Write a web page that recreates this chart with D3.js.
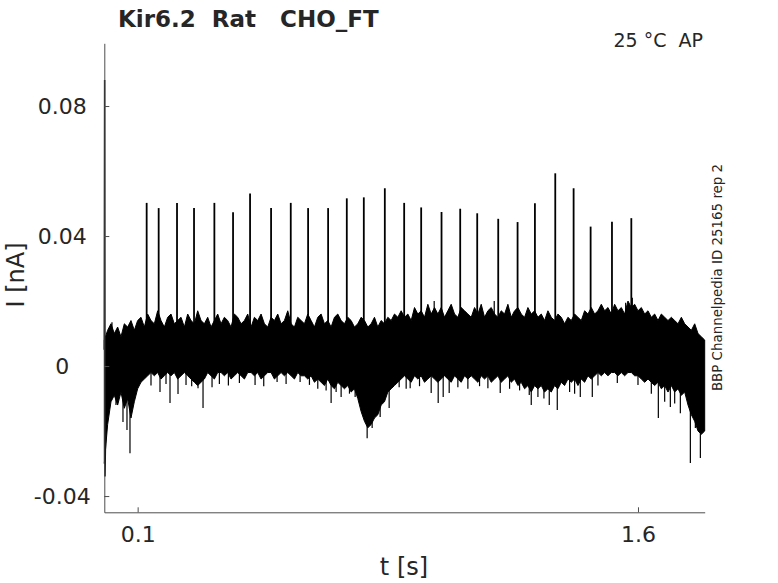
<!DOCTYPE html>
<html>
<head>
<meta charset="utf-8">
<script src="https://cdn.jsdelivr.net/npm/d3@7"></script>
<style>
    body { margin: 0; background: #fff; }
    text { font-family: "DejaVu Sans", sans-serif; fill: #262626; }
</style>
</head>
<body>
<svg id="chart" width="778" height="583"></svg>
<script>
    // envelope of the noisy trace, sampled every 10 ms from 0 to 1.8 s (nA)
    const tStep = 0.01;
    const hiEdge = [
        0.008, 0.011, 0.013, 0.010, 0.012, 0.009, 0.013, 0.012, 0.014, 0.011,
        0.014, 0.015, 0.012, 0.016, 0.014, 0.013, 0.017, 0.014, 0.012, 0.015,
        0.016, 0.013, 0.014, 0.015, 0.012, 0.016, 0.014, 0.013, 0.017, 0.014,
        0.013, 0.015, 0.012, 0.014, 0.016, 0.013, 0.015, 0.014, 0.012, 0.016,
        0.015, 0.013, 0.014, 0.016, 0.012, 0.015, 0.014, 0.016, 0.013, 0.012,
        0.015, 0.014, 0.016, 0.013, 0.014, 0.017, 0.013, 0.012, 0.015, 0.014,
        0.013, 0.016, 0.014, 0.012, 0.015, 0.016, 0.013, 0.014, 0.012, 0.015,
        0.016, 0.014, 0.013, 0.015, 0.014, 0.012, 0.013, 0.015, 0.014, 0.012,
        0.013, 0.015, 0.012, 0.014, 0.013, 0.015, 0.014, 0.016, 0.015, 0.017,
        0.015, 0.016, 0.014, 0.018, 0.016, 0.017, 0.015, 0.019, 0.016, 0.018,
        0.016, 0.018, 0.015, 0.017, 0.019, 0.016, 0.015, 0.018, 0.017, 0.016,
        0.015, 0.018, 0.016, 0.019, 0.015, 0.017, 0.018, 0.016, 0.015, 0.017,
        0.016, 0.019, 0.015, 0.017, 0.018, 0.016, 0.015, 0.018, 0.016, 0.017,
        0.015, 0.016, 0.014, 0.017, 0.015, 0.014, 0.016, 0.015, 0.013, 0.015,
        0.014, 0.016, 0.015, 0.014, 0.017, 0.016, 0.018, 0.016, 0.017, 0.019,
        0.017, 0.018, 0.016, 0.019, 0.017, 0.018, 0.016, 0.020, 0.018, 0.019,
        0.017, 0.018, 0.016, 0.017, 0.015, 0.016, 0.014, 0.016, 0.015, 0.014,
        0.015, 0.014, 0.013, 0.015, 0.013, 0.012, 0.011, 0.013, 0.010, 0.009,
        0.008
    ];
    const loEdge = [
        -0.030, -0.018, -0.011, -0.009, -0.012, -0.008, -0.013, -0.010, -0.016, -0.011,
        -0.007, -0.005, -0.004, -0.003, -0.002, -0.003, -0.002, -0.004, -0.003, -0.002,
        -0.003, -0.002, -0.004, -0.003, -0.002, -0.003, -0.004, -0.005, -0.006, -0.005,
        -0.004, -0.002, -0.003, -0.004, -0.002, -0.002, -0.003, -0.002, -0.004, -0.003,
        -0.002, -0.003, -0.004, -0.002, -0.002, -0.003, -0.002, -0.004, -0.003, -0.002,
        -0.002, -0.004, -0.003, -0.002, -0.003, -0.002, -0.003, -0.004, -0.002, -0.003,
        -0.003, -0.004, -0.003, -0.005, -0.004, -0.005, -0.006, -0.004, -0.006, -0.007,
        -0.005, -0.006, -0.007, -0.006, -0.008, -0.007, -0.010, -0.014, -0.017, -0.019,
        -0.018, -0.016, -0.015, -0.012, -0.011, -0.008, -0.007, -0.006, -0.005, -0.004,
        -0.003, -0.004, -0.005, -0.003, -0.004, -0.003, -0.005, -0.004, -0.003, -0.004,
        -0.005, -0.004, -0.003, -0.004, -0.005, -0.003, -0.004, -0.005, -0.003, -0.004,
        -0.003, -0.004, -0.005, -0.003, -0.004, -0.003, -0.005, -0.004, -0.003, -0.005,
        -0.004, -0.003, -0.005, -0.004, -0.006, -0.005, -0.007, -0.006, -0.008, -0.006,
        -0.007, -0.006, -0.008, -0.007, -0.008, -0.006, -0.007, -0.005, -0.006, -0.004,
        -0.005, -0.004, -0.006, -0.004, -0.005, -0.003, -0.004, -0.003, -0.002, -0.003,
        -0.002, -0.003, -0.002, -0.002, -0.003, -0.002, -0.003, -0.002, -0.002, -0.003,
        -0.003, -0.004, -0.005, -0.004, -0.005, -0.006, -0.005, -0.007, -0.006, -0.008,
        -0.006, -0.008, -0.007, -0.009, -0.008, -0.012, -0.015, -0.017, -0.020, -0.021,
        -0.020
    ];

    // action-potential-like spikes: time (s) and peak (nA)
    const spikeT = [0.127, 0.163, 0.218, 0.269, 0.330, 0.386, 0.437, 0.500, 0.559, 0.611,
        0.671, 0.727, 0.778, 0.841, 0.899, 0.950, 1.011, 1.067, 1.118, 1.181,
        1.239, 1.291, 1.352, 1.407, 1.458, 1.522, 1.580];
    const spikePeak = [0.0502, 0.0486, 0.0502, 0.0486, 0.0502, 0.0473, 0.0531, 0.0486, 0.0502, 0.0486,
        0.0486, 0.0516, 0.0519, 0.0547, 0.0502, 0.0488, 0.0474, 0.0484, 0.0470, 0.0453,
        0.0443, 0.0501, 0.0593, 0.0547, 0.0429, 0.0444, 0.0455];

    // single downward noise excursions below the band
    const dipT = [0.035, 0.056, 0.068, 0.077, 0.140, 0.167, 0.185, 0.197, 0.221, 0.245,
        0.262, 0.281, 0.296, 0.323, 0.345, 0.372, 0.405, 0.452, 0.478, 0.518,
        0.545, 0.587, 0.615, 0.640, 0.665, 0.680, 0.695, 0.710, 0.735, 0.752,
        0.765, 0.788, 0.803, 0.827, 0.854, 0.884, 0.905, 0.917, 0.945, 0.980,
        1.001, 1.016, 1.034, 1.060, 1.090, 1.125, 1.150, 1.187, 1.215, 1.245,
        1.274, 1.280, 1.300, 1.318, 1.334, 1.358, 1.395, 1.410, 1.427, 1.463,
        1.480, 1.538, 1.600, 1.640, 1.661, 1.680, 1.697, 1.710, 1.727, 1.757,
        1.772, 1.787];
    const dipV = [-0.0120, -0.0172, -0.0197, -0.0268, -0.0060, -0.0080, -0.0055, -0.0114, -0.0086, -0.0058,
        -0.0062, -0.0068, -0.0129, -0.0065, -0.0055, -0.0060, -0.0052, -0.0058, -0.0062, -0.0049,
        -0.0055, -0.0049, -0.0058, -0.0070, -0.0075, -0.0114, -0.0080, -0.0095, -0.0085, -0.0095,
        -0.0100, -0.0222, -0.0191, -0.0157, -0.0129, -0.0065, -0.0070, -0.0068, -0.0062, -0.0083,
        -0.0114, -0.0095, -0.0083, -0.0065, -0.0070, -0.0062, -0.0068, -0.0083, -0.0070, -0.0075,
        -0.0089, -0.0120, -0.0095, -0.0100, -0.0120, -0.0135, -0.0080, -0.0085, -0.0095, -0.0095,
        -0.0060, -0.0052, -0.0058, -0.0085, -0.0160, -0.0110, -0.0126, -0.0115, -0.0145, -0.0298,
        -0.0191, -0.0283];

    // upward noise excursions above the band
    const bumpT = [0.023, 0.989, 1.169, 1.563, 1.583];
    const bumpV = [0.0135, 0.0200, 0.0200, 0.0195, 0.0210];

    // onset transient at t = 0
    const onsetT = [0.000, 0.001, 0.002, 0.004, 0.006];
    const onsetV = [0.005, 0.088, -0.034, -0.020, 0.008];

    const xTicks = [0.1, 1.6];
    const yTicks = [-0.04, 0, 0.04, 0.08];

    const svg = d3.select("#chart");
    const mLeft = 104.3, mRight = 704.7, mTop = 43.3, mBottom = 512.3;

    const x = d3.scaleLinear().domain([0, 1.8]).range([mLeft, mRight]);
    const y = d3.scaleLinear().domain([-0.045, 0.0993]).range([mBottom, mTop]);

    const edges = hiEdge.map((h, i) => ({t: i * tStep, hi: h, lo: loEdge[i]}));

    const trace = svg.append("g");

    // noise band
    trace.append("path")
        .datum(edges)
        .attr("d", d3.area().x(d => x(d.t)).y0(d => y(d.lo)).y1(d => y(d.hi)))
        .attr("fill", "#000")
        .attr("stroke", "#000")
        .attr("stroke-width", 1);

    // spikes
    trace.selectAll("line.spike")
        .data(spikeT)
        .enter()
        .append("line")
        .attr("class", "spike")
        .attr("x1", d => x(d))
        .attr("x2", d => x(d))
        .attr("y1", y(0.008))
        .attr("y2", (d, i) => y(spikePeak[i]))
        .attr("stroke", "#000")
        .attr("stroke-width", 1.8);

    trace.selectAll("line.dip")
        .data(dipT)
        .enter()
        .append("line")
        .attr("class", "dip")
        .attr("x1", d => x(d))
        .attr("x2", d => x(d))
        .attr("y1", y(-0.002))
        .attr("y2", (d, i) => y(dipV[i]))
        .attr("stroke", "#000")
        .attr("stroke-width", 1.2);

    trace.selectAll("line.bump")
        .data(bumpT)
        .enter()
        .append("line")
        .attr("class", "bump")
        .attr("x1", d => x(d))
        .attr("x2", d => x(d))
        .attr("y1", y(0.01))
        .attr("y2", (d, i) => y(bumpV[i]))
        .attr("stroke", "#000")
        .attr("stroke-width", 1.2);

    trace.append("path")
        .datum(onsetT.map((t, i) => [t, onsetV[i]]))
        .attr("d", d3.line().x(d => x(d[0])).y(d => y(d[1])))
        .attr("fill", "none")
        .attr("stroke", "#000")
        .attr("stroke-width", 1.5);

    // axes
    const xAxis = svg.append("g")
        .attr("transform", `translate(0,${mBottom})`)
        .call(d3.axisBottom(x).tickValues(xTicks).tickFormat(d3.format(".1f"))
            .tickSizeInner(-5).tickSizeOuter(0).tickPadding(14.4));
    const yAxis = svg.append("g")
        .attr("transform", `translate(${mLeft},0)`)
        .call(d3.axisLeft(y).tickValues(yTicks)
            .tickFormat(d => d === 0 ? "0" : d3.format(".2f")(d).replace("\u2212", "-"))
            .tickSizeInner(-5).tickSizeOuter(0));

    [xAxis, yAxis].forEach(a => {
        a.select(".domain").attr("stroke", "#4d4d4d").attr("stroke-width", 1);
        a.selectAll(".tick line").attr("stroke", "#4d4d4d");
        a.selectAll(".tick text").attr("font-size", 22).attr("fill", "#262626");
    });
    yAxis.selectAll(".tick text").attr("text-anchor", "middle").attr("x", -42);

    // labels
    svg.append("text")
        .attr("x", 404).attr("y", 575)
        .attr("text-anchor", "middle")
        .attr("font-size", 24)
        .text("t [s]");
    svg.append("text")
        .attr("transform", "translate(24,275) rotate(-90)")
        .attr("text-anchor", "middle")
        .attr("font-size", 24)
        .text("I [nA]");
    svg.append("text")
        .attr("x", 118).attr("y", 27)
        .attr("font-size", 23)
        .attr("font-weight", "bold")
        .attr("fill", "#000")
        .style("white-space", "pre")
        .text("Kir6.2  Rat   CHO_FT");
    svg.append("text")
        .attr("x", 703).attr("y", 47.3)
        .attr("text-anchor", "end")
        .attr("font-size", 19)
        .attr("fill", "#000")
        .style("white-space", "pre")
        .text("25 °C  AP");
    svg.append("text")
        .attr("transform", "translate(722,277.5) rotate(-90)")
        .attr("text-anchor", "middle")
        .attr("font-size", 13.4)
        .attr("fill", "#000")
        .text("BBP Channelpedia ID 25165 rep 2");
</script>
</body>
</html>
